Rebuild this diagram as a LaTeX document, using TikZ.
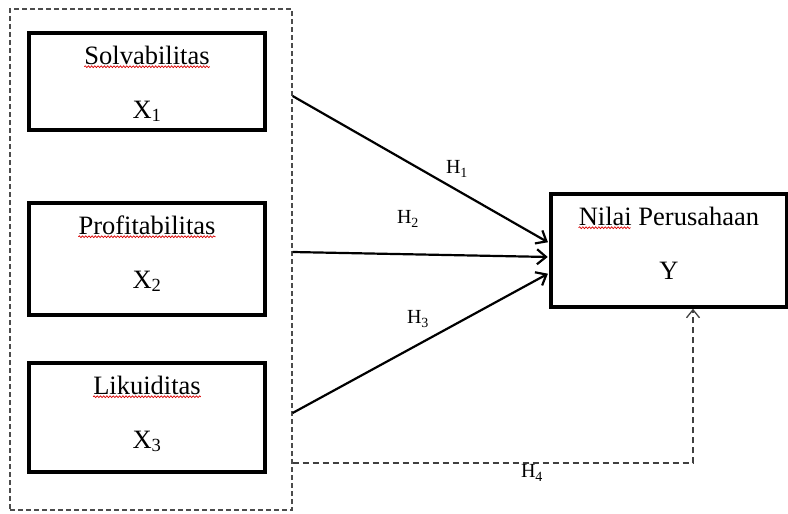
\documentclass[tikz,border=0pt]{standalone}
\usepackage{fontspec}
\setmainfont{Liberation Serif}
\usetikzlibrary{arrows.meta,calc,decorations.pathmorphing}
\newcommand{\varbox}[5]{
    \node[var box,minimum height=#3] (#1) at #2 {};
    \node[var title] (#1t) at ([yshift=-33pt]#1.north) {#4};
    \node[var title] (#1s) at ([yshift=-87pt]#1.north) {#5};
}

\begin{document}
\begin{tikzpicture}
[
    x=1pt, y=-1pt,
    var box/.style={draw, line width=3.5pt, minimum width=236pt, inner sep=0pt},
    var title/.style={anchor=base, inner sep=0pt, font={\fontsize{26.5}{31}\selectfont}},
    group frame/.style={draw=black!70, line width=1.2pt, dash pattern=on 5pt off 3pt,
        minimum width=282pt, minimum height=501pt, inner sep=0pt},
    effect/.style={line width=2.2pt, shorten >=1.5pt,
        -{Straight Barb[length=9pt,width=15pt]}},
    dep/.style={draw=black!75, line width=1.3pt, dash pattern=on 6pt off 4pt,
        -{Straight Barb[length=8pt,width=13pt]}},
    hyp/.style={inner sep=0pt, font={\fontsize{20}{22}\selectfont}},
    spell/.style={red!85!black, line width=0.7pt, decorate,
        decoration={snake, amplitude=0.9pt, segment length=3.2pt}},
]
    \useasboundingbox (0,0) rectangle (788,514);

    \node[group frame] (grp) at (151,259.5) {};
    \varbox{x1}{(147,81.5)}{97pt}{Solvabilitas}{X\textsubscript{1}}
    \varbox{x2}{(147,259)}{112pt}{Profitabilitas}{X\textsubscript{2}}
    \varbox{x3}{(147,417.5)}{109pt}{Likuiditas}{X\textsubscript{3}}
    \varbox{y}{(669,250.5)}{113pt}{Nilai Perusahaan}{Y}

    % spelling marks
    \foreach \v in {x1,x2,x3}
        \draw[spell] ([yshift=-2pt]\v t.south west) -- ([yshift=-2pt]\v t.south east);
    \draw[spell] ([yshift=-2pt]yt.south west) -- ++(52,0);

    \draw[effect] ($(grp.east |- x1.east)+(0,14.5)$) -- ($(y.west)+(0,-7.5)$);
    \draw[effect] ($(grp.east |- x2.east)+(0,-7)$) -- ($(y.west)+(0,6.5)$);
    \draw[effect] ($(grp.east |- x3.east)+(0,-4.5)$) -- ($(y.west)+(0,22.5)$);
    \coordinate (bend) at (693,463);
    \draw[dep] (grp.east |- bend) -| (y.south -| bend);

    \node[hyp] (h1) at (457,169) {H\textsubscript{1}};
    \node[hyp] (h2) at (408,219) {H\textsubscript{2}};
    \node[hyp] (h3) at (418,319) {H\textsubscript{3}};
    \node[hyp] (h4) at (532,473) {H\textsubscript{4}};
\end{tikzpicture}
\end{document}
